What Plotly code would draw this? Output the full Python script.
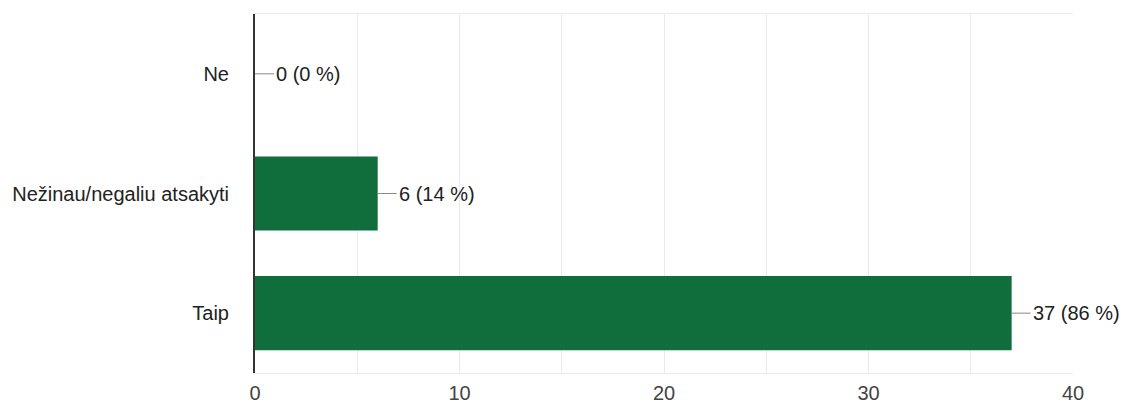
import plotly.graph_objects as go

categories = ["Taip", "Nežinau/negaliu atsakyti", "Ne"]
counts = [37, 6, 0]
percents = [86, 14, 0]
x_ticks = [0, 10, 20, 30, 40]

labels = [f"{c} ({p} %)" for c, p in zip(counts, percents)]

FONT = "Liberation Sans, Arial, sans-serif"

fig = go.Figure()
fig.add_trace(go.Bar(
    x=counts, y=categories, orientation="h",
    marker=dict(color="#106e3c", line=dict(width=0)),
    width=0.62, hoverinfo="skip",
))

for c, cat, lab in zip(counts, categories, labels):
    fig.add_annotation(
        x=c, y=cat, text=lab, showarrow=True, arrowhead=0, arrowwidth=1,
        arrowcolor="#888888", ax=19, ay=0, xanchor="left", standoff=0,
        font=dict(family=FONT, size=20, color="#222222"),
    )

fig.update_layout(
    width=1122, height=403,
    margin=dict(l=255, r=49, t=14, b=30, autoexpand=False),
    plot_bgcolor="white", paper_bgcolor="white",
    showlegend=False,
    font=dict(family=FONT, size=20, color="#444444"),
    xaxis=dict(
        range=[0, 40], tickvals=x_ticks, showgrid=True, gridcolor="#ebebeb",
        minor=dict(dtick=5, showgrid=True, gridcolor="#ebebeb"),
        zeroline=False, showline=True, mirror=True, linecolor="#ebebeb",
        automargin=False,
        ticks="", ticklabelstandoff=2, tickfont=dict(family=FONT, size=20, color="#444444"),
    ),
    yaxis=dict(
        range=[-0.5, 2.5], showgrid=False, zeroline=False,
        showline=True, linecolor="#333333", linewidth=2, automargin=False,
        ticks="", ticklabelstandoff=20, tickfont=dict(family=FONT, size=20, color="#222222"),
    ),
)

fig.write_html(
    "out.html",
    config={"displayModeBar": False},
    post_script="document.body.style.margin='0';document.body.style.overflow='hidden';",
)
